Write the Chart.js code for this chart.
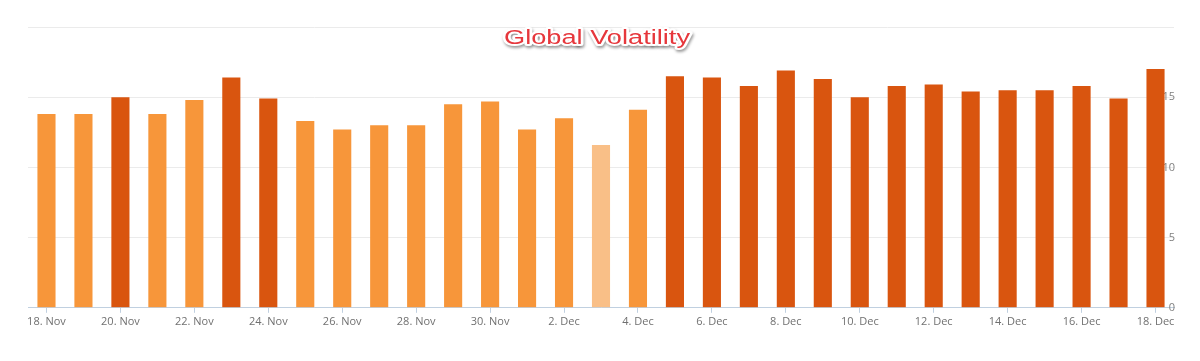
<!DOCTYPE html>
<html>
<head>
<meta charset="utf-8">
<script src="https://cdn.jsdelivr.net/npm/chart.js@4"></script>
<style>
html,body{margin:0;padding:0;background:#fff;}
#wrap{width:1200px;height:361px;position:relative;}
</style>
</head>
<body>
<div id="wrap"><canvas id="c" width="1200" height="361"></canvas></div>
<script>
const categories = ["18. Nov","19. Nov","20. Nov","21. Nov","22. Nov","23. Nov","24. Nov","25. Nov","26. Nov","27. Nov","28. Nov","29. Nov","30. Nov","1. Dec","2. Dec","3. Dec","4. Dec","5. Dec","6. Dec","7. Dec","8. Dec","9. Dec","10. Dec","11. Dec","12. Dec","13. Dec","14. Dec","15. Dec","16. Dec","17. Dec","18. Dec"];
const volatility = [13.8,13.8,15.0,13.8,14.8,16.4,14.9,13.3,12.7,13.0,13.0,14.5,14.7,12.7,13.5,11.6,14.1,16.5,16.4,15.8,16.9,16.3,15.0,15.8,15.9,15.4,15.5,15.5,15.8,14.9,17.0];
// level: 0 = pale, 1 = medium, 2 = high
const levels = [1,1,2,1,1,2,2,1,1,1,1,1,1,1,1,0,1,2,2,2,2,2,2,2,2,2,2,2,2,2,2];
const yTicks = [0,5,10,15,20];
const titleText = "Global Volatility";

const levelColors = ["#F9BF87", "#F7963A", "#D9550F"];

const titlePlugin = {
  id: 'overlayTitle',
  afterDraw(chart) {
    const ctx = chart.ctx;
    ctx.save();
    ctx.translate(597, 44);
    ctx.scale(1.36, 1);
    ctx.font = '20px "Liberation Sans", Arial, sans-serif';
    ctx.textAlign = 'center';
    ctx.textBaseline = 'alphabetic';
    ctx.shadowColor = 'rgba(0,0,0,0.4)';
    ctx.shadowBlur = 3;
    ctx.shadowOffsetX = 1;
    ctx.shadowOffsetY = 2;
    ctx.lineJoin = 'round';
    ctx.lineWidth = 4;
    ctx.strokeStyle = '#ffffff';
    ctx.strokeText(titleText, 0, 0);
    ctx.shadowColor = 'transparent';
    ctx.fillStyle = '#E6373C';
    ctx.fillText(titleText, 0, 0);
    ctx.restore();
  }
};

new Chart(document.getElementById('c'), {
  type: 'bar',
  data: {
    labels: categories,
    datasets: [{
      data: volatility,
      backgroundColor: levels.map(l => levelColors[l]),
      borderWidth: 0,
      categoryPercentage: 1.0,
      barPercentage: 0.49
    }]
  },
  options: {
    responsive: false,
    animation: false,
    layout: { padding: { top: 27, left: 28, right: 24, bottom: 31 } },
    plugins: { legend: { display: false }, tooltip: { enabled: false }, title: { display: false } },
    scales: {
      x: {
        offset: true,
        grid: {
          offset: false,
          drawOnChartArea: false,
          drawTicks: true,
          tickLength: 5,
          color: '#C0D0E0'
        },
        border: { display: true, color: '#C0D0E0', width: 1 },
        ticks: {
          autoSkip: false,
          maxRotation: 0,
          padding: 2,
          color: '#707070',
          font: { family: '"Open Sans", "DejaVu Sans", sans-serif', size: 11 },
          callback: function(v, i) { return i % 2 === 0 ? categories[i] : null; }
        }
      },
      y: {
        position: 'right',
        z: 1,
        min: yTicks[0],
        max: yTicks[yTicks.length - 1],
        afterBuildTicks: (axis) => { axis.ticks = yTicks.map(v => ({ value: v })); },
        grid: { color: '#EBEBEB', drawTicks: false, z: -1 },
        border: { display: false },
        ticks: {
          mirror: true,
          padding: 1,
          color: '#808080',
          font: { family: '"Open Sans", "DejaVu Sans", sans-serif', size: 11 },
          callback: (v) => v === yTicks[yTicks.length - 1] ? '' : String(v)
        }
      }
    }
  },
  plugins: [titlePlugin]
});
</script>
</body>
</html>
